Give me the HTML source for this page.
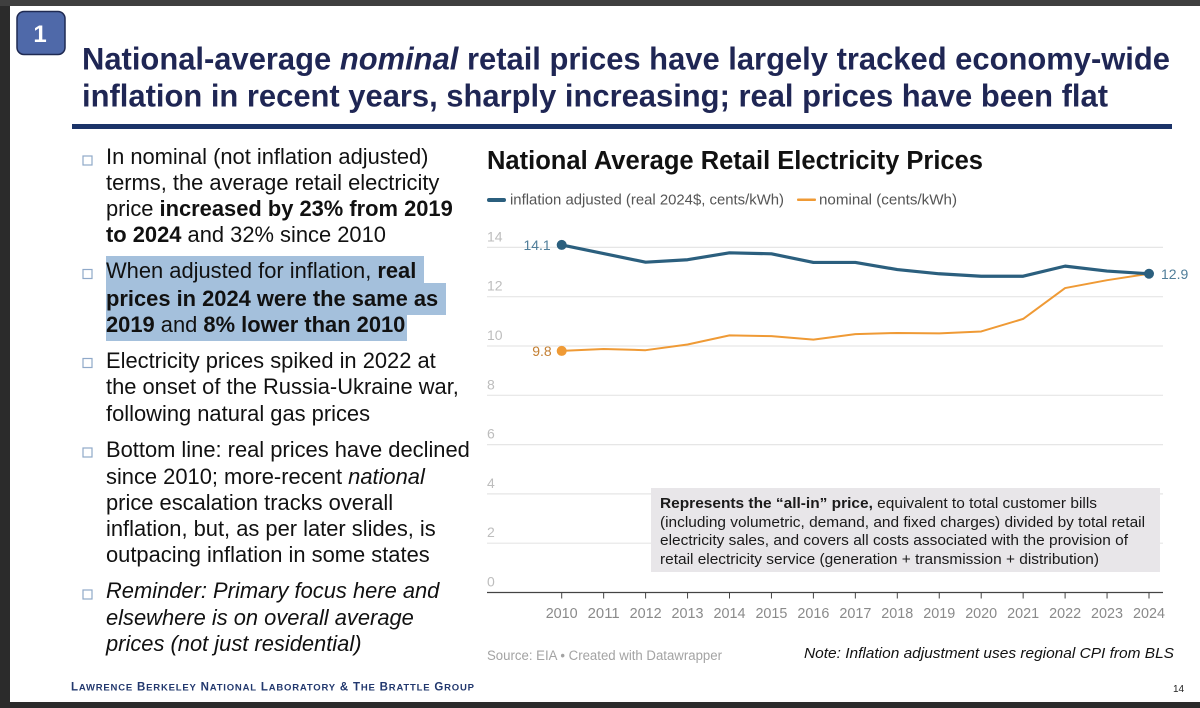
<!DOCTYPE html>
<html lang="en">
<head>
<meta charset="utf-8">
<title>National Average Retail Electricity Prices</title>
<style>
html,body{margin:0;padding:0;background:#333;}
body{width:1200px;height:708px;overflow:hidden;position:relative;}
svg{display:block;position:absolute;left:0;top:0;}
text{font-family:"Liberation Sans",sans-serif;}
.t{font-size:21.9px;fill:#111;}
.b{font-weight:bold;}
.i{font-style:italic;}
.ann{font-size:15px;fill:#1a1a1a;}
.tick{font-size:14.5px;fill:#8a8a8a;}
.ytick{font-size:14px;fill:#bdbdbd;}
</style>
</head>
<body>
<svg id="slide" width="1200" height="708" viewBox="0 0 1200 708" xmlns="http://www.w3.org/2000/svg">
  <rect x="0" y="0" width="1200" height="708" fill="#2b2b2b"/>
  <rect x="0" y="0" width="1200" height="6" fill="#3f3f3f"/>
  <rect x="10" y="6" width="1190" height="696" fill="#ffffff"/>

  <rect x="17" y="11.5" width="48" height="43" rx="7" fill="#4f69a9" stroke="#1f2a52" stroke-width="1.5"/>
  <text x="40" y="42" text-anchor="middle" font-size="24" font-weight="bold" fill="#ffffff">1</text>

  <g font-size="31.3" font-weight="bold" fill="#1f2654">
    <text x="82" y="69.5" textLength="1088" lengthAdjust="spacingAndGlyphs">National-average <tspan class="i">nominal</tspan> retail prices have largely tracked economy-wide</text>
    <text x="82" y="106.5" textLength="1026" lengthAdjust="spacingAndGlyphs">inflation in recent years, sharply increasing; real prices have been flat</text>
  </g>
  <rect x="72" y="124" width="1100" height="5" fill="#1b3368"/>

  <g fill="#a4c0dc">
    <rect x="106" y="256" width="318" height="28"/>
    <rect x="106" y="283" width="340" height="32"/>
    <rect x="106" y="314" width="301" height="27"/>
  </g>

  <g fill="#ffffff" stroke="#8fa9c9" stroke-width="1.2">
    <rect x="83" y="156" width="9" height="9"/>
    <rect x="83" y="269.5" width="9" height="9"/>
    <rect x="83" y="358.5" width="9" height="9"/>
    <rect x="83" y="448" width="9" height="9"/>
    <rect x="83" y="590" width="9" height="9"/>
  </g>

  <g>
    <text class="t" x="106" y="164">In nominal (not inflation adjusted)</text>
    <text class="t" x="106" y="190">terms, the average retail electricity</text>
    <text class="t" x="106" y="216">price <tspan class="b">increased by 23% from 2019</tspan></text>
    <text class="t" x="106" y="242"><tspan class="b">to 2024</tspan> and 32% since 2010</text>
  </g>
  <g>
    <text class="t" x="106" y="278">When adjusted for inflation, <tspan class="b">real</tspan></text>
    <text class="t b" x="106" y="306">prices in 2024 were the same as</text>
    <text class="t" x="106" y="332"><tspan class="b">2019</tspan> and <tspan class="b">8% lower than 2010</tspan></text>
  </g>
  <g>
    <text class="t" x="106" y="368">Electricity prices spiked in 2022 at</text>
    <text class="t" x="106" y="394">the onset of the Russia-Ukraine war,</text>
    <text class="t" x="106" y="421">following natural gas prices</text>
  </g>
  <g>
    <text class="t" x="106" y="457">Bottom line: real prices have declined</text>
    <text class="t" x="106" y="484">since 2010; more-recent <tspan class="i">national</tspan></text>
    <text class="t" x="106" y="510">price escalation tracks overall</text>
    <text class="t" x="106" y="536">inflation, but, as per later slides, is</text>
    <text class="t" x="106" y="562">outpacing inflation in some states</text>
  </g>
  <g>
    <text class="t i" x="106" y="598">Reminder: Primary focus here and</text>
    <text class="t i" x="106" y="625">elsewhere is on overall average</text>
    <text class="t i" x="106" y="651">prices (not just residential)</text>
  </g>

  <text x="487" y="169" font-size="25.5" font-weight="bold" fill="#111" textLength="496" lengthAdjust="spacingAndGlyphs">National Average Retail Electricity Prices</text>

  <g>
    <g>
      <rect x="487" y="198" width="19" height="4" rx="2" fill="#2b5f7e"/>
      <text x="510" y="204.5" font-size="14.5" fill="#555" textLength="274" lengthAdjust="spacingAndGlyphs">inflation adjusted (real 2024$, cents/kWh)</text>
    </g>
    <g>
      <rect x="797" y="198.5" width="19" height="2.5" rx="1" fill="#ef9a35"/>
      <text x="819" y="204.5" font-size="14.5" fill="#555" textLength="138" lengthAdjust="spacingAndGlyphs">nominal (cents/kWh)</text>
    </g>
  </g>

  <g id="chart"></g>

  <rect x="651" y="488" width="509" height="84" fill="#e8e6e9"/>
  <g>
    <text class="ann" x="660" y="508" textLength="437" lengthAdjust="spacingAndGlyphs"><tspan class="b">Represents the “all-in” price,</tspan> equivalent to total customer bills</text>
    <text class="ann" x="660" y="527" textLength="485" lengthAdjust="spacingAndGlyphs">(including volumetric, demand, and fixed charges) divided by total retail</text>
    <text class="ann" x="660" y="545" textLength="468" lengthAdjust="spacingAndGlyphs">electricity sales, and covers all costs associated with the provision of</text>
    <text class="ann" x="660" y="564" textLength="439" lengthAdjust="spacingAndGlyphs">retail electricity service (generation + transmission + distribution)</text>
  </g>

  <text x="487" y="660" font-size="13.5" fill="#a3a3a3" textLength="235" lengthAdjust="spacingAndGlyphs">Source: EIA • Created with Datawrapper</text>
  <text x="804" y="658" font-size="15" font-style="italic" fill="#111" textLength="370" lengthAdjust="spacingAndGlyphs">Note: Inflation adjustment uses regional CPI from BLS</text>

  <text x="71" y="690.5" font-size="11.5" font-weight="bold" fill="#22386e" textLength="403">L<tspan font-size="9.5">AWRENCE</tspan> B<tspan font-size="9.5">ERKELEY</tspan> N<tspan font-size="9.5">ATIONAL</tspan> L<tspan font-size="9.5">ABORATORY</tspan> &amp; T<tspan font-size="9.5">HE</tspan> B<tspan font-size="9.5">RATTLE</tspan> G<tspan font-size="9.5">ROUP</tspan></text>
  <text x="1173" y="692" font-size="10" fill="#222">14</text>
</svg>
<script>
const years = [2010,2011,2012,2013,2014,2015,2016,2017,2018,2019,2020,2021,2022,2023,2024];
const realPrices = [14.1,13.75,13.4,13.5,13.78,13.74,13.39,13.39,13.1,12.93,12.83,12.83,13.24,13.04,12.93];
const nominalPrices = [9.8,9.88,9.83,10.06,10.43,10.4,10.26,10.48,10.53,10.51,10.59,11.1,12.35,12.67,12.93];
const yTicks = [0,2,4,6,8,10,12,14];

const NS = 'http://www.w3.org/2000/svg';
const chart = document.getElementById('chart');
const xScale = function (year) { return 561.7 + (year - 2010) * (1149 - 561.7) / 14; };
const yScale = function (value) { return 592.5 - value * 24.65; };

function add(tag, attrs, parent) {
  const el = document.createElementNS(NS, tag);
  for (const k in attrs) el.setAttribute(k, attrs[k]);
  (parent || chart).appendChild(el);
  return el;
}

yTicks.forEach(function (v) {
  if (v > 0) {
    const grid = add('line', {x1: 487, x2: 1163, y1: yScale(v), y2: yScale(v), stroke: '#e6e6e6', 'stroke-width': 1.2});
    
    
  }
  const label = add('text', {x: 487, y: yScale(v) - 6, class: 'ytick'});
  label.textContent = v;
  
  
});

const axis = add('line', {x1: 487, x2: 1163, y1: yScale(0), y2: yScale(0), stroke: '#444', 'stroke-width': 1.3});



years.forEach(function (yr) {
  const tick = add('line', {x1: xScale(yr), x2: xScale(yr), y1: yScale(0), y2: yScale(0) + 6, stroke: '#444', 'stroke-width': 1});
  
  
  const label = add('text', {x: xScale(yr), y: 618, 'text-anchor': 'middle', class: 'tick', textLength: 32, lengthAdjust: 'spacingAndGlyphs'});
  label.textContent = yr;
  
  
});

function pathFor(values) {
  return values.map(function (v, i) {
    return (i ? 'L' : 'M') + xScale(years[i]).toFixed(2) + ' ' + yScale(v).toFixed(2);
  }).join(' ');
}

const nominalLine = add('path', {d: pathFor(nominalPrices), fill: 'none', stroke: '#ef9a35', 'stroke-width': 2, 'stroke-linejoin': 'round'});


const realLine = add('path', {d: pathFor(realPrices), fill: 'none', stroke: '#2b5f7e', 'stroke-width': 3.2, 'stroke-linejoin': 'round'});



const nominalStart = add('circle', {cx: xScale(years[0]), cy: yScale(nominalPrices[0]), r: 5, fill: '#ef9a35'});


const realStart = add('circle', {cx: xScale(years[0]), cy: yScale(realPrices[0]), r: 5, fill: '#2b5f7e'});


const realEnd = add('circle', {cx: xScale(years[14]), cy: yScale(realPrices[14]), r: 5, fill: '#2b5f7e'});



const realStartLabel = add('text', {x: xScale(years[0]) - 11, y: yScale(realPrices[0]) + 5, 'text-anchor': 'end', 'font-size': 14, fill: '#4f7d99'});
realStartLabel.textContent = realPrices[0].toFixed(1);


const nominalStartLabel = add('text', {x: xScale(years[0]) - 10, y: yScale(nominalPrices[0]) + 5, 'text-anchor': 'end', 'font-size': 14, fill: '#c47f32'});
nominalStartLabel.textContent = nominalPrices[0].toFixed(1);


const realEndLabel = add('text', {x: xScale(years[14]) + 12, y: yScale(realPrices[14]) + 5, 'font-size': 14, fill: '#4f7d99'});
realEndLabel.textContent = realPrices[14].toFixed(1);


</script>
</body>
</html>
